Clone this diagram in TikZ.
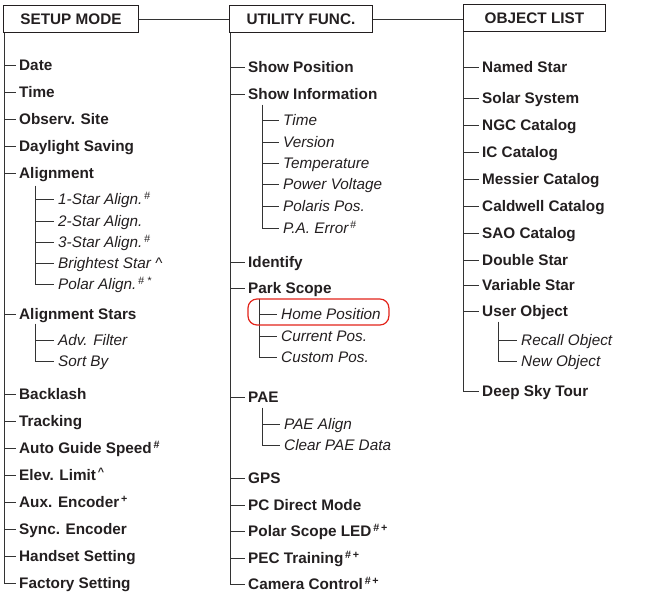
\documentclass[tikz,border=0pt]{standalone}
\usepackage{fontspec}
\setmainfont{Liberation Sans}
\definecolor{ink}{HTML}{231F20}
\definecolor{ring}{HTML}{E2231A}
\tikzset{
  head/.style={draw=ink, line width=0.9pt, anchor=north west, minimum height=27pt, inner sep=0pt, text=ink, font=\bfseries\fontsize{15.3}{18}\selectfont},
  entry/.style={anchor=west, inner xsep=3pt, inner ysep=0pt, text height=11pt, text depth=0pt, text=ink, font=\bfseries\fontsize{15.3}{18}\selectfont},
  subentry/.style={entry, inner xsep=4pt, font=\itshape\fontsize{15.3}{18}\selectfont},
  tree/.style={draw=black!80, line width=0.9pt},
}
\newcommand{\mk}[1]{\textsuperscript{\,#1}}
\begin{document}
\begin{tikzpicture}[x=1pt,y=-1pt]
\useasboundingbox (0,0) rectangle (668,598);
\node[head, minimum width=135pt] (setup) at (3,5) {SETUP MODE};
\node[head, minimum width=143pt] (util) at (229,5) {UTILITY FUNC.};
\node[head, minimum width=142pt] (objects) at (463,4) {OBJECT LIST};
\draw[tree] (setup.east) -- (util.west);
\draw[tree] (util.east) -- (util.east -| objects.west);
\coordinate (setuptr) at ([xshift=1pt]setup.south west);
\coordinate (utiltr) at ([xshift=1pt]util.south west);
\coordinate (objtr) at ([xshift=0.5pt]objects.south west);
% setup mode
\foreach \n/\y/\t in {date/65/Date, time/92/Time, site/119/Observ. Site, dst/146/Daylight Saving,
    align/173/Alignment, astars/314/Alignment Stars, backlash/394/Backlash, tracking/421/Tracking,
    guide/448/{Auto Guide Speed\mk{\#}}, elev/475/{Elev. Limit\mk{\textasciicircum}},
    aux/502/{Aux. Encoder\mk{+}}, sync/529/Sync. Encoder, handset/556/Handset Setting,
    factory/583/Factory Setting}{
  \node[entry] (\n) at (16,\y) {\t};
  \draw[tree] (setuptr |- \n.west) -- (\n.west);
}
\draw[tree] (setuptr) |- (factory.west);
\coordinate (aligntr) at ([xshift=19pt,yshift=-7pt]align.south west);
\foreach \n/\y/\t in {astar1/199/{1-Star Align.\mk{\#}}, astar2/221/2-Star Align.,
    astar3/242/{3-Star Align.\mk{\#}}, bright/263/Brightest Star \textasciicircum,
    polar/284/{Polar Align.\mk{\# *}}}{
  \node[subentry] (\n) at (54,\y) {\t};
  \draw[tree] (aligntr |- \n.west) -- (\n.west);
}
\draw[tree] (aligntr) |- (polar.west);
\coordinate (astarstr) at ([xshift=19pt,yshift=-4pt]astars.south west);
\foreach \n/\y/\t in {filter/340/Adv. Filter, sortby/361/Sort By}{
  \node[subentry] (\n) at (54,\y) {\t};
  \draw[tree] (astarstr |- \n.west) -- (\n.west);
}
\draw[tree] (astarstr) |- (sortby.west);
% utility functions
\foreach \n/\y/\t in {showpos/67/Show Position, showinfo/94/Show Information, identify/262/Identify,
    park/288/Park Scope, pae/397/PAE, gps/478/GPS, pcdirect/505/PC Direct Mode,
    polled/531/{Polar Scope LED\mk{\#\,+}}, pec/558/{PEC Training\mk{\#\,+}},
    camera/584/{Camera Control\mk{\#\,+}}}{
  \node[entry] (\n) at (245,\y) {\t};
  \draw[tree] (utiltr |- \n.west) -- (\n.west);
}
\draw[tree] (utiltr) |- (camera.west);
\coordinate (infotr) at ([xshift=17pt,yshift=-5pt]showinfo.south west);
\foreach \n/\y/\t in {infotime/120/Time, version/142/Version, temp/163/Temperature,
    power/184/Power Voltage, polaris/206/Polaris Pos., paerror/228/{P.A. Error\mk{\#}}}{
  \node[subentry] (\n) at (279,\y) {\t};
  \draw[tree] (infotr |- \n.west) -- (\n.west);
}
\draw[tree] (infotr) |- (paerror.west);
\coordinate (parktr) at ([xshift=14pt,yshift=-5pt]park.south west);
\foreach \n/\y/\t in {home/314/Home Position, current/336/Current Pos., custom/357/Custom Pos.}{
  \node[subentry] (\n) at (277,\y) {\t};
  \draw[tree] (parktr |- \n.west) -- (\n.west);
}
\draw[tree] (parktr) |- (custom.west);
\coordinate (paetr) at ([xshift=17pt,yshift=-5pt]pae.south west);
\foreach \n/\y/\t in {paealign/424/PAE Align, clearpae/445/Clear PAE Data}{
  \node[subentry] (\n) at (280,\y) {\t};
  \draw[tree] (paetr |- \n.west) -- (\n.west);
}
\draw[tree] (paetr) |- (clearpae.west);
\draw[ring, line width=1.2pt, rounded corners=9pt] ([shift={(-29pt,-11pt)}]home.west) rectangle ([shift={(4pt,15pt)}]home.east);
% object list
\foreach \n/\y/\t in {named/67/Named Star, solar/98/Solar System, ngc/125/NGC Catalog,
    ic/152/IC Catalog, messier/179/Messier Catalog, caldwell/206/Caldwell Catalog,
    sao/233/SAO Catalog, double/260/Double Star, variable/285/Variable Star,
    user/311/User Object, deepsky/391/Deep Sky Tour}{
  \node[entry] (\n) at (479,\y) {\t};
  \draw[tree] (objtr |- \n.west) -- (\n.west);
}
\draw[tree] (objtr) |- (deepsky.west);
\coordinate (usertr) at ([xshift=19pt,yshift=-5pt]user.south west);
\foreach \n/\y/\t in {recall/340/Recall Object, newobj/361/New Object}{
  \node[subentry] (\n) at (517,\y) {\t};
  \draw[tree] (usertr |- \n.west) -- (\n.west);
}
\draw[tree] (usertr) |- (newobj.west);
\end{tikzpicture}
\end{document}
